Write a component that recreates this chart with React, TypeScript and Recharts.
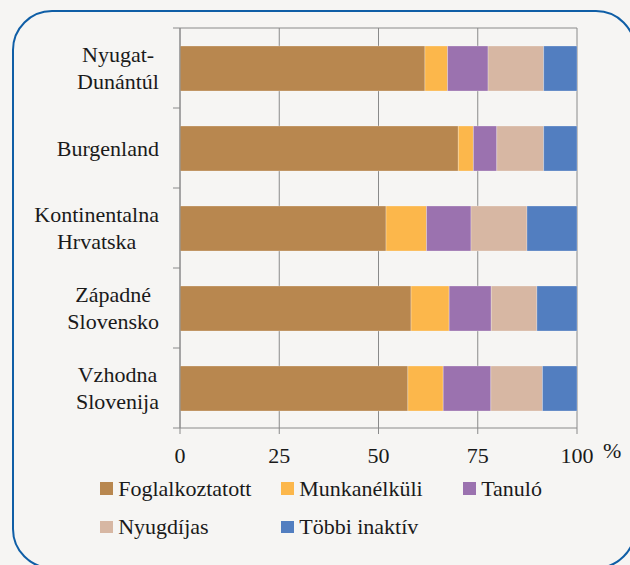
import { BarChart, Bar, XAxis, YAxis, CartesianGrid, Legend } from 'recharts';

const FONT = '"Liberation Serif", serif';
const TEXT = '#1a1a1a';
const AXIS = '#8a8a8a';

// régiók (sortörés = új sor a tengelyfeliraton)
const regions = [
  'Nyugat-\nDunántúl',
  'Burgenland',
  'Kontinentalna\nHrvatska',
  'Západné\nSlovensko',
  'Vzhodna\nSlovenija',
];

// megoszlás, %
const foglalkoztatott = [61.7, 70.1, 51.9, 58.2, 57.4];
const munkanelkuli = [5.7, 3.8, 10.2, 9.6, 8.9];
const tanulo = [10.2, 5.9, 11.2, 10.6, 12.0];
const nyugdijas = [14.0, 11.8, 14.1, 11.5, 13.0];
const tobbiInaktiv = [8.4, 8.4, 12.6, 10.1, 8.7];

const xTicks = [0, 25, 50, 75, 100];

const series = [
  { key: 'foglalkoztatott', name: 'Foglalkoztatott', color: '#b8874f', values: foglalkoztatott },
  { key: 'munkanelkuli', name: 'Munkanélküli', color: '#fcb74b', values: munkanelkuli },
  { key: 'tanulo', name: 'Tanuló', color: '#9b72af', values: tanulo },
  { key: 'nyugdijas', name: 'Nyugdíjas', color: '#d7b7a3', values: nyugdijas },
  { key: 'tobbiInaktiv', name: 'Többi inaktív', color: '#527ec0', values: tobbiInaktiv },
];

const data = regions.map((region, i) => {
  const row: Record<string, string | number> = { region };
  series.forEach((s) => {
    row[s.key] = s.values[i];
  });
  return row;
});

const TICK_SIZE = 7;
const TICK_MARGIN = 14;

// Excel-szerű címke: a sorok középre zárva, a blokk jobbra zárva
function RegionTick(props: any) {
  const { x, y, payload, index, visibleTicksCount } = props;
  const lines = String(payload.value).split('\n');
  const half = payload.offset || 40;
  const axisX = x + TICK_MARGIN + TICK_SIZE;
  const isLast = index === visibleTicksCount - 1;
  return (
    <g>
      <line x1={axisX - TICK_SIZE} x2={axisX} y1={y - half} y2={y - half} stroke={AXIS} />
      {isLast && (
        <line x1={axisX - TICK_SIZE} x2={axisX} y1={y + half} y2={y + half} stroke={AXIS} />
      )}
      <foreignObject x={x - 170} y={y - half} width={170} height={half * 2}>
        <div
          style={{
            width: 170,
            height: half * 2,
            display: 'flex',
            alignItems: 'center',
            justifyContent: 'flex-end',
          }}
        >
          <div
            style={{
              textAlign: 'center',
              fontFamily: FONT,
              fontSize: 22,
              lineHeight: '27px',
              color: TEXT,
              whiteSpace: 'nowrap',
            }}
          >
            {lines.map((line, i) => (
              <div key={i}>{line}</div>
            ))}
          </div>
        </div>
      </foreignObject>
    </g>
  );
}

// jelmagyarázat a sorozatok eredeti sorrendjében
function LegendContent() {
  return (
    <div
      style={{
        display: 'grid',
        gridTemplateColumns: '181px 182px 150px',
        paddingLeft: 100,
        fontFamily: FONT,
        fontSize: 22,
        color: TEXT,
      }}
    >
      {series.map((s) => (
        <div key={s.key} style={{ display: 'flex', alignItems: 'center', height: 38.3 }}>
          <span
            style={{ width: 12.7, height: 12.7, background: s.color, marginRight: 5.5, flex: 'none' }}
          />
          <span style={{ whiteSpace: 'nowrap' }}>{s.name}</span>
        </div>
      ))}
    </div>
  );
}

export default function App() {
  return (
    <div
      style={{
        position: 'absolute',
        left: 0,
        top: 0,
        width: 630,
        height: 565,
        overflow: 'hidden',
        background: '#f6f5f3',
        fontFamily: FONT,
      }}
    >
      <BarChart
        width={630}
        height={565}
        data={data}
        layout="vertical"
        margin={{ top: 28, right: 53, left: 0, bottom: 97 }}
        barSize={45}
      >
        <CartesianGrid
          stroke={AXIS}
          vertical
          horizontal
          horizontalCoordinatesGenerator={({ offset }: any) => [offset.top]}
        />
        <XAxis
          type="number"
          domain={[0, 100]}
          ticks={xTicks}
          allowDataOverflow
          height={40}
          tickSize={6}
          tickMargin={13}
          axisLine={{ stroke: AXIS }}
          tickLine={{ stroke: AXIS }}
          tick={{ fill: TEXT, fontSize: 22, fontFamily: FONT }}
          label={{
            content: ({ viewBox }: any) => (
              <text
                x={viewBox.x + viewBox.width + 26}
                y={viewBox.y + 29.5}
                fontFamily={FONT}
                fontSize={22}
                fill={TEXT}
              >
                %
              </text>
            ),
          }}
        />
        <YAxis
          type="category"
          dataKey="region"
          width={180}
          tickLine={false}
          tickSize={TICK_SIZE}
          tickMargin={TICK_MARGIN}
          axisLine={{ stroke: AXIS }}
          tick={(p: any) => <RegionTick {...p} />}
          interval={0}
        />
        <Legend
          layout="horizontal"
          verticalAlign="middle"
          align="center"
          wrapperStyle={{ left: 0, top: 469.5, width: 630 }}
          content={() => <LegendContent />}
        />
        {series.map((s) => (
          <Bar
            key={s.key}
            dataKey={s.key}
            name={s.name}
            stackId="a"
            fill={s.color}
            stroke="#ffffff"
            strokeOpacity={0.35}
            strokeWidth={0.75}
            isAnimationActive={false}
          />
        ))}
      </BarChart>
      <div
        style={{
          position: 'absolute',
          left: 12,
          top: 10,
          width: 624,
          height: 559,
          boxSizing: 'border-box',
          border: '2.5px solid #0f5ea6',
          borderRadius: 40,
          pointerEvents: 'none',
        }}
      />
    </div>
  );
}
